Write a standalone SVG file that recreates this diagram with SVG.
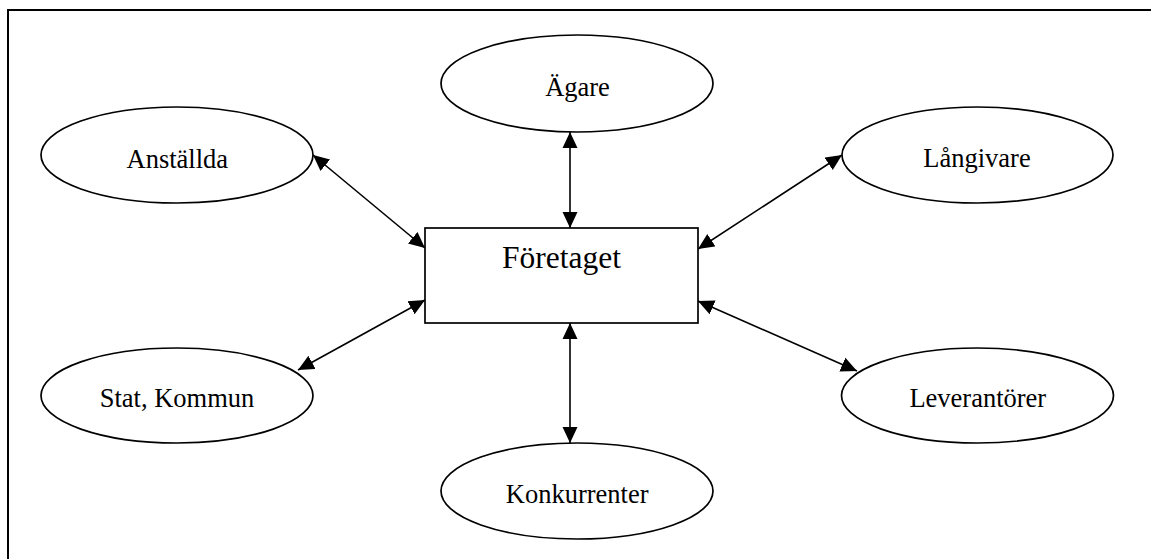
<svg xmlns="http://www.w3.org/2000/svg" width="1151" height="559" viewBox="0 0 1151 559">
<style>
.node{fill:#fff;stroke:#000;stroke-width:1.7}
.lbl{font-family:"Liberation Serif","Times New Roman",serif;font-size:26.5px;fill:#000;text-anchor:middle}
.big{font-size:31.5px}
.conn{stroke:#000;stroke-width:1.6;fill:none;marker-start:url(#ah);marker-end:url(#ah)}
</style>
<defs>
<marker id="ah" markerUnits="userSpaceOnUse" markerWidth="17" markerHeight="17" refX="16" refY="8" orient="auto-start-reverse" viewBox="0 0 17 17">
<path d="M0,0.5 L16,8 L0,15.5 z" fill="#000"/>
</marker>
</defs>
<rect width="1151" height="559" fill="#fff"/>
<path d="M8,559 V10 H1151" fill="none" stroke="#000" stroke-width="2"/>
<g id="connectors">
<line class="conn" x1="570" y1="132" x2="570" y2="228"/>
<line class="conn" x1="570" y1="323" x2="570" y2="443"/>
<line class="conn" x1="313" y1="155" x2="425" y2="248"/>
<line class="conn" x1="842" y1="155" x2="698" y2="249"/>
<line class="conn" x1="298" y1="370" x2="425" y2="300"/>
<line class="conn" x1="698" y1="301" x2="857" y2="371"/>
</g>
<g id="foretaget">
<rect class="node" x="425" y="228" width="273" height="95"/>
<text class="lbl big" x="561.5" y="268">Företaget</text>
</g>
<g id="agare">
<ellipse class="node" cx="577" cy="83.5" rx="136" ry="48.5"/>
<text class="lbl" x="577.5" y="95.7">Ägare</text>
</g>
<g id="anstallda">
<ellipse class="node" cx="177" cy="155" rx="136" ry="48"/>
<text class="lbl" x="177.3" y="167.5">Anställda</text>
</g>
<g id="langivare">
<ellipse class="node" cx="977.5" cy="155" rx="135.5" ry="48"/>
<text class="lbl" x="977" y="166.7">Långivare</text>
</g>
<g id="statkommun">
<ellipse class="node" cx="177" cy="395.5" rx="136" ry="47.5"/>
<text class="lbl" x="177" y="407">Stat, Kommun</text>
</g>
<g id="leverantorer">
<ellipse class="node" cx="977.5" cy="395.5" rx="136" ry="47.5"/>
<text class="lbl" x="977.8" y="407">Leverantörer</text>
</g>
<g id="konkurrenter">
<ellipse class="node" cx="577" cy="491" rx="136" ry="48"/>
<text class="lbl" x="577.2" y="502.7">Konkurrenter</text>
</g>
</svg>
